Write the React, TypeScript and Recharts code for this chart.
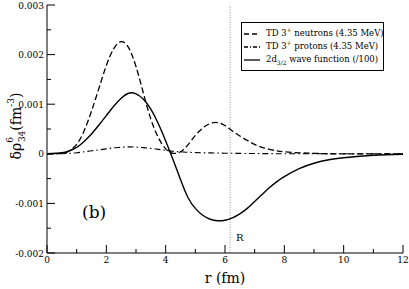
import { LineChart, Line, XAxis, YAxis, ReferenceLine, Legend, Customized } from "recharts"

const radius = [0, 0.5, 0.75, 1, 1.25, 1.5, 1.75, 2, 2.25, 2.5, 2.75, 3, 3.25, 3.5, 3.75, 4, 4.25, 4.5, 4.75, 5, 5.25, 5.5, 5.75, 6, 6.25, 6.5, 6.75, 7, 7.25, 7.5, 7.75, 8, 8.5, 9, 9.5, 10, 11, 12]

const neutrons = [0, 0.00001, 0.00006, 0.00019, 0.00046, 0.00086, 0.00132, 0.00178, 0.00212, 0.00226, 0.00214, 0.00176, 0.00122, 0.0007, 0.00033, 0.0001, 0.00001, 0.00004, 0.00018, 0.00037, 0.00052, 0.00061, 0.00063, 0.00057, 0.00046, 0.00036, 0.00027, 0.00019, 0.00013, 0.00009, 0.00006, 0.00004, 0.00002, 0.00001, 0, 0, 0, 0]

const protons = [0, 0.000002, 0.000008, 0.00002, 0.00004, 0.00006, 0.00008, 0.0001, 0.00012, 0.00013, 0.00014, 0.000135, 0.000125, 0.00011, 0.00009, 0.00007, 0.00005, 0.00004, 0.00003, 0.000025, 0.00002, 0.000018, 0.000015, 0.000012, 0.00001, 0.000008, 0.000006, 0.000005, 0.000004, 0.000003, 0.000002, 0.000002, 0, 0, 0, 0, 0, 0]

const wave = [0, 0.00002, 0.00006, 0.00013, 0.00025, 0.0004, 0.00058, 0.00077, 0.00096, 0.00112, 0.00122, 0.00121, 0.0011, 0.0009, 0.00061, 0.00026, -0.00012, -0.00052, -0.00088, -0.0011, -0.00124, -0.00132, -0.00135, -0.00134, -0.00129, -0.00121, -0.0011, -0.00096, -0.00082, -0.00068, -0.00056, -0.00046, -0.0003, -0.00019, -0.00012, -0.00008, -0.00003, -0.00001]

const xTicks = [0, 1, 2, 3, 4, 5, 6, 7, 8, 9, 10, 11, 12]
const yTicks = [-0.002, -0.0015, -0.001, -0.0005, 0, 0.0005, 0.001, 0.0015, 0.002, 0.0025, 0.003]
const nuclearRadius = 6.17

const data = radius.map((r, i) => ({ r, neutrons: neutrons[i], protons: protons[i], wave: wave[i] }))

const FONT = "DejaVu Serif"
const isMajorX = (v: number) => v % 2 === 0
const isMajorY = (v: number) => Math.abs(Math.round(v * 1000) - v * 1000) < 1e-6

function BottomTick(props: any) {
  const { x, y, payload } = props
  const major = isMajorX(payload.value)
  return (
    <g>
      <line x1={x} x2={x} y1={y} y2={y - (major ? 8 : 4)} stroke="#000" />
      {major && (
        <text x={x} y={y + 10} textAnchor="middle" fontSize={9} fontFamily={FONT} fill="#000">
          {payload.value}
        </text>
      )}
    </g>
  )
}

function TopTick(props: any) {
  const { x, y, payload } = props
  const major = isMajorX(payload.value)
  return <line x1={x} x2={x} y1={y} y2={y + (major ? 8 : 4)} stroke="#000" />
}

function LeftTick(props: any) {
  const { x, y, payload } = props
  const major = isMajorY(payload.value)
  return (
    <g>
      <line x1={x} x2={x + (major ? 8 : 4)} y1={y} y2={y} stroke="#000" />
      {major && (
        <text x={x - 3} y={y + 3.5} textAnchor="end" fontSize={9} fontFamily={FONT} fill="#000">
          {String(payload.value)}
        </text>
      )}
    </g>
  )
}

function RightTick(props: any) {
  const { x, y, payload } = props
  const major = isMajorY(payload.value)
  return <line x1={x} x2={x - (major ? 8 : 4)} y1={y} y2={y} stroke="#000" />
}

function YTitle() {
  return (
    <text transform="rotate(-90, 21, 126)" x={21} y={126} textAnchor="middle" fontFamily={FONT} fontSize={14} fill="#000">
      δρ
      <tspan fontSize={9} dy={-8}>6</tspan>
      <tspan fontSize={9} dx={-5} dy={12}>34</tspan>
      <tspan dy={-4}>(fm</tspan>
      <tspan fontSize={9} dy={-7}>-3</tspan>
      <tspan dy={7}>)</tspan>
    </text>
  )
}

function PanelTag() {
  return (
    <text x={82} y={218} fontFamily={FONT} fontSize={17} fill="#000">
      (b)
    </text>
  )
}

function Sample({ dash }: { dash?: string }) {
  return (
    <svg width={16} height={6} style={{ marginRight: 6, flex: "none" }}>
      <line x1={0} x2={16} y1={3} y2={3} stroke="#000" strokeWidth={1.3} strokeDasharray={dash} />
    </svg>
  )
}

const sup = { fontSize: 6, position: "relative" as const, top: -4, verticalAlign: "baseline" }
const sub = { fontSize: 6, position: "relative" as const, top: 3, verticalAlign: "baseline" }

function LegendBox() {
  const row = { display: "flex", alignItems: "center", height: 13, whiteSpace: "nowrap" as const }
  return (
    <div style={{ width: 139, border: "1px solid #000", background: "#fff", padding: "4px 0 4px 2px", fontFamily: FONT, fontSize: 8.5, color: "#000", lineHeight: "13px" }}>
      <div style={row}>
        <Sample dash="5 3" />
        <span>TD 3<span style={sup}>+</span> neutrons (4.35 MeV)</span>
      </div>
      <div style={row}>
        <Sample dash="4 2 1 2" />
        <span>TD 3<span style={sup}>+</span> protons (4.35 MeV)</span>
      </div>
      <div style={row}>
        <Sample />
        <span>2d<span style={sub}>3/2</span> wave function (/100)</span>
      </div>
    </div>
  )
}

export default function App() {
  return (
    <div style={{ position: "absolute", left: 0, top: 0, background: "#fff" }}>
      <LineChart width={409} height={289} data={data} margin={{ top: 5, right: 6, left: 0, bottom: 0 }}>
        <XAxis dataKey="r" type="number" domain={[0, 12]} ticks={xTicks} interval={0} height={36} tickSize={0} tickMargin={0} tickLine={false} tick={<BottomTick />} axisLine={{ stroke: "#000" }} label={{ value: "r (fm)", position: "insideBottom", offset: 6, fontFamily: FONT, fontSize: 14, fill: "#000" }} />
        <XAxis xAxisId="top" orientation="top" dataKey="r" type="number" domain={[0, 12]} ticks={xTicks} interval={0} height={0} tickSize={0} tickMargin={0} tickLine={false} tick={<TopTick />} axisLine={{ stroke: "#000" }} />
        <YAxis type="number" domain={[-0.002, 0.003]} ticks={yTicks} interval={0} width={47} tickSize={0} tickMargin={0} tickLine={false} tick={<LeftTick />} axisLine={{ stroke: "#000" }} label={{ content: () => <YTitle /> }} />
        <YAxis yAxisId="right" orientation="right" type="number" domain={[-0.002, 0.003]} ticks={yTicks} interval={0} width={0} tickSize={0} tickMargin={0} tickLine={false} tick={<RightTick />} axisLine={{ stroke: "#000" }} />
        <ReferenceLine x={nuclearRadius} stroke="#999" strokeDasharray="1 1.5" label={(p: any) => (
          <text x={p.viewBox.x + 6} y={241} fontFamily={FONT} fontSize={10} fill="#000">R</text>
        )} />
        <Line type="natural" dataKey="neutrons" stroke="#000" strokeWidth={1.3} strokeDasharray="6 3" dot={false} isAnimationActive={false} />
        <Line type="natural" dataKey="protons" stroke="#000" strokeWidth={1.1} strokeDasharray="6 3 1.5 3" dot={false} isAnimationActive={false} />
        <Line type="natural" dataKey="wave" stroke="#000" strokeWidth={1.4} dot={false} isAnimationActive={false} />
        <Legend layout="vertical" align="center" verticalAlign="middle" content={() => <LegendBox />} wrapperStyle={{ position: "absolute", left: 241, top: 22, width: "auto", height: "auto" }} />
        <Customized component={PanelTag} />
      </LineChart>
    </div>
  )
}
